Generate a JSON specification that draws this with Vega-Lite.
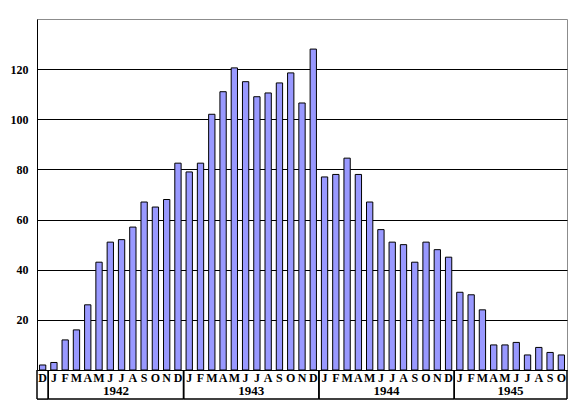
{
  "$schema": "https://vega.github.io/schema/vega-lite/v6.json",
  "width": 530,
  "height": 351,
  "autosize": {"type": "none"},
  "padding": {"left": 37, "top": 19, "right": 10, "bottom": 35},
  "background": "white",
  "config": {"view": {"stroke": "#8c8c8c", "strokeWidth": 1}, "font": "Liberation Serif"},
  "datasets": {
    "monthly": [
      {"ym": "1941-12", "value": 2},
      {"ym": "1942-01", "value": 3},
      {"ym": "1942-02", "value": 12},
      {"ym": "1942-03", "value": 16},
      {"ym": "1942-04", "value": 26},
      {"ym": "1942-05", "value": 43},
      {"ym": "1942-06", "value": 51},
      {"ym": "1942-07", "value": 52},
      {"ym": "1942-08", "value": 57},
      {"ym": "1942-09", "value": 67},
      {"ym": "1942-10", "value": 65},
      {"ym": "1942-11", "value": 68},
      {"ym": "1942-12", "value": 82.5},
      {"ym": "1943-01", "value": 79},
      {"ym": "1943-02", "value": 82.5},
      {"ym": "1943-03", "value": 102},
      {"ym": "1943-04", "value": 111},
      {"ym": "1943-05", "value": 120.5},
      {"ym": "1943-06", "value": 115},
      {"ym": "1943-07", "value": 109},
      {"ym": "1943-08", "value": 110.5},
      {"ym": "1943-09", "value": 114.5},
      {"ym": "1943-10", "value": 118.5},
      {"ym": "1943-11", "value": 106.5},
      {"ym": "1943-12", "value": 128},
      {"ym": "1944-01", "value": 77},
      {"ym": "1944-02", "value": 78},
      {"ym": "1944-03", "value": 84.5},
      {"ym": "1944-04", "value": 78},
      {"ym": "1944-05", "value": 67},
      {"ym": "1944-06", "value": 56},
      {"ym": "1944-07", "value": 51},
      {"ym": "1944-08", "value": 50},
      {"ym": "1944-09", "value": 43},
      {"ym": "1944-10", "value": 51},
      {"ym": "1944-11", "value": 48},
      {"ym": "1944-12", "value": 45},
      {"ym": "1945-01", "value": 31},
      {"ym": "1945-02", "value": 30},
      {"ym": "1945-03", "value": 24},
      {"ym": "1945-04", "value": 10},
      {"ym": "1945-05", "value": 10},
      {"ym": "1945-06", "value": 11},
      {"ym": "1945-07", "value": 6},
      {"ym": "1945-08", "value": 9},
      {"ym": "1945-09", "value": 7},
      {"ym": "1945-10", "value": 6}
    ],
    "years": [
      {"year": "", "start": 0, "end": 1},
      {"year": "1942", "start": 1, "end": 13},
      {"year": "1943", "start": 13, "end": 25},
      {"year": "1944", "start": 25, "end": 37},
      {"year": "1945", "start": 37, "end": 47}
    ]
  },
  "layer": [
    {
      "data": {"name": "monthly"},
      "mark": {"type": "bar", "fill": "#9999ff", "stroke": "black", "strokeWidth": 1},
      "encoding": {
        "x": {
          "field": "ym", "type": "nominal", "sort": null,
          "scale": {"paddingInner": 0.44, "paddingOuter": 0.22},
          "axis": {
            "title": null, "labelAngle": 0, "ticks": false, "domain": true, "domainColor": "black",
            "labelPadding": 2, "labelFont": "Liberation Serif", "labelFontWeight": "bold",
            "labelFontSize": 12, "labelColor": "black", "labelOverlap": false,
            "labelExpr": "['J','F','M','A','M','J','J','A','S','O','N','D'][toNumber(slice(datum.value,5))-1]"
          }
        },
        "y": {
          "field": "value", "type": "quantitative",
          "scale": {"domain": [0, 140], "nice": false},
          "axis": {
            "title": null, "values": [20, 40, 60, 80, 100, 120], "ticks": false,
            "grid": true, "gridColor": "black", "gridOpacity": 1, "gridWidth": 1,
            "domain": true, "domainColor": "black", "labelPadding": 9,
            "labelFont": "Liberation Serif", "labelFontWeight": "bold", "labelFontSize": 12, "labelColor": "black"
          }
        }
      }
    },
    {
      "data": {"name": "years"},
      "mark": {"type": "rule", "color": "black", "strokeWidth": 1.5},
      "encoding": {
        "x": {"field": "start", "type": "quantitative", "scale": {"domain": [0, 47], "nice": false, "zero": false}, "axis": null},
        "y": {"datum": 0},
        "y2": {"datum": -11.6}
      }
    },
    {
      "data": {"name": "years"},
      "mark": {"type": "rule", "color": "black", "strokeWidth": 1.5},
      "encoding": {
        "x": {"field": "end", "type": "quantitative", "scale": {"domain": [0, 47], "nice": false, "zero": false}, "axis": null},
        "y": {"datum": 0},
        "y2": {"datum": -11.6}
      }
    },
    {
      "data": {"name": "years"},
      "mark": {"type": "rule", "color": "black", "strokeWidth": 1.5},
      "encoding": {
        "x": {"field": "start", "type": "quantitative", "scale": {"domain": [0, 47], "nice": false, "zero": false}, "axis": null},
        "x2": {"field": "end"},
        "y": {"datum": -11.6}
      }
    },
    {
      "data": {"name": "years"},
      "transform": [{"calculate": "(datum.start + datum.end) / 2", "as": "mid"}],
      "mark": {"type": "text", "font": "Liberation Serif", "fontWeight": "bold", "fontSize": 13, "color": "black", "baseline": "middle", "align": "center"},
      "encoding": {
        "x": {"field": "mid", "type": "quantitative", "scale": {"domain": [0, 47], "nice": false, "zero": false}, "axis": null},
        "y": {"datum": -8.2},
        "text": {"field": "year"}
      }
    }
  ],
  "resolve": {"scale": {"x": "independent"}}
}
